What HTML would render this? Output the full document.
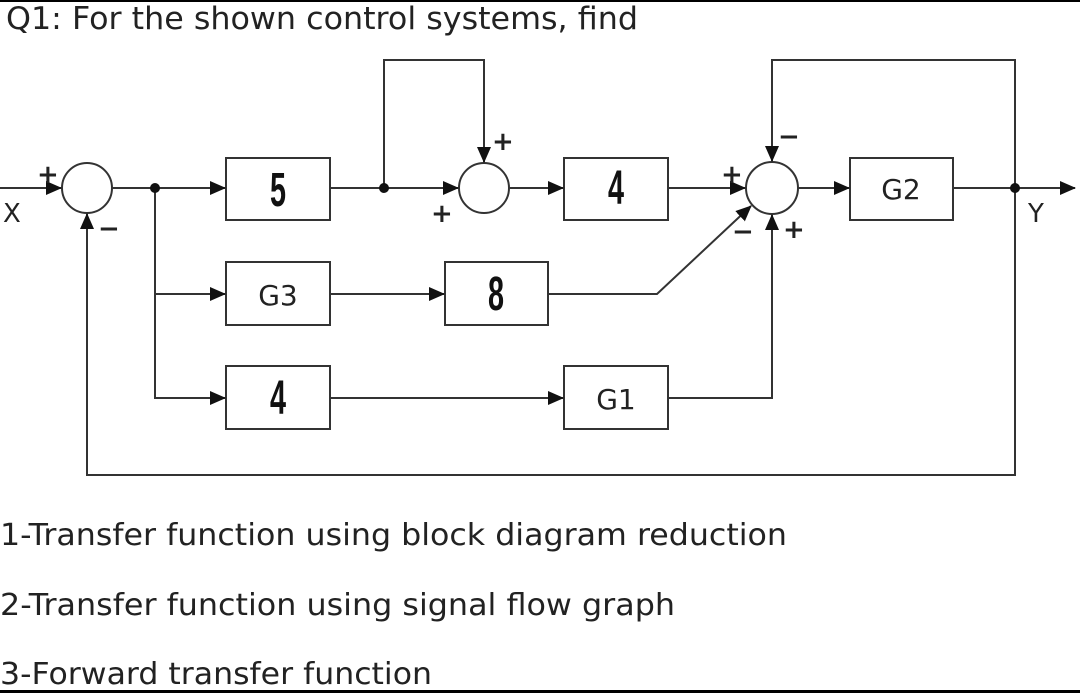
<!DOCTYPE html>
<html><head><meta charset="utf-8"><style>
html,body{margin:0;padding:0;background:#fff;width:1080px;height:693px;overflow:hidden}
svg{display:block}
text{font-family:"DejaVu Sans","Liberation Sans",sans-serif;fill:#222}
.n{font-family:"Liberation Sans Narrow","Liberation Sans",sans-serif;font-weight:bold;fill:#111}
</style></head><body>
<svg width="1080" height="693" viewBox="0 0 1080 693" xmlns="http://www.w3.org/2000/svg">
<defs><marker id="b" markerWidth="16" markerHeight="14" refX="15" refY="7" orient="auto" markerUnits="userSpaceOnUse"><path d="M0,0 L16,7 L0,14 z" fill="#111"/></marker></defs>
<rect x="0" y="0" width="1080" height="2" fill="#000"/>
<rect x="0" y="690" width="1080" height="3" fill="#000"/>
<text x="6" y="29" font-size="31" textLength="632" lengthAdjust="spacingAndGlyphs">Q1: For the shown control systems, find</text>
<g stroke="#333" stroke-width="2" fill="none">
<circle cx="87" cy="188" r="25"/><circle cx="484" cy="188" r="25"/><circle cx="772" cy="188" r="26"/>
<rect x="226" y="158" width="104" height="62"/><rect x="564" y="158" width="104" height="62"/><rect x="850" y="158" width="103" height="62"/>
<rect x="226" y="262" width="104" height="63"/><rect x="445" y="262" width="103" height="63"/>
<rect x="226" y="366" width="104" height="63"/><rect x="564" y="366" width="104" height="63"/>
<line x1="0" y1="188" x2="61" y2="188" marker-end="url(#b)"/>
<line x1="112" y1="188" x2="225" y2="188" marker-end="url(#b)"/>
<line x1="330" y1="188" x2="458" y2="188" marker-end="url(#b)"/>
<polyline points="384,188 384,60 484,60 484,162" marker-end="url(#b)"/>
<line x1="509" y1="188" x2="563" y2="188" marker-end="url(#b)"/>
<line x1="668" y1="188" x2="745" y2="188" marker-end="url(#b)"/>
<line x1="798" y1="188" x2="849" y2="188" marker-end="url(#b)"/>
<line x1="953" y1="188" x2="1075" y2="188" marker-end="url(#b)"/>
<polyline points="1015,188 1015,60 772,60 772,161" marker-end="url(#b)"/>
<polyline points="1015,188 1015,475 87,475 87,214" marker-end="url(#b)"/>
<polyline points="155,188 155,398 225,398" marker-end="url(#b)"/>
<line x1="155" y1="294" x2="225" y2="294" marker-end="url(#b)"/>
<line x1="330" y1="294" x2="444" y2="294" marker-end="url(#b)"/>
<line x1="330" y1="398" x2="563" y2="398" marker-end="url(#b)"/>
<polyline points="548,294 657,294 751,206" marker-end="url(#b)"/>
<polyline points="668,398 772,398 772,215" marker-end="url(#b)"/>
</g>
<g fill="#111"><circle cx="155" cy="188" r="5"/><circle cx="384" cy="188" r="5"/><circle cx="1015" cy="188" r="5"/></g>
<text class="n" x="278" y="206" font-size="48" text-anchor="middle" transform="translate(278 0) scale(0.6 1) translate(-278 0)">5</text>
<text class="n" x="616" y="204" font-size="48" text-anchor="middle" transform="translate(616 0) scale(0.6 1) translate(-616 0)">4</text>
<text class="n" x="496" y="310" font-size="48" text-anchor="middle" transform="translate(496 0) scale(0.6 1) translate(-496 0)">8</text>
<text class="n" x="278" y="414" font-size="48" text-anchor="middle" transform="translate(278 0) scale(0.6 1) translate(-278 0)">4</text>
<text x="901" y="199" font-size="28" text-anchor="middle">G2</text>
<text x="278" y="305" font-size="28" text-anchor="middle">G3</text>
<text x="616" y="409" font-size="28" text-anchor="middle">G1</text>
<text x="3" y="222" font-size="26">X</text>
<text x="1028" y="222" font-size="26">Y</text>
<g font-size="26" font-weight="bold" fill="#222">
<text x="37" y="183">+</text><text x="98" y="237">−</text>
<text x="492" y="150">+</text><text x="431" y="222">+</text>
<text x="721" y="183">+</text><text x="778" y="145">−</text>
<text x="732" y="240">−</text><text x="783" y="238">+</text>
</g>
<text x="0" y="545" font-size="30" textLength="787" lengthAdjust="spacingAndGlyphs">1-Transfer function using block diagram reduction</text>
<text x="0" y="615" font-size="30" textLength="675" lengthAdjust="spacingAndGlyphs">2-Transfer function using signal flow graph</text>
<text x="0" y="684" font-size="30" textLength="432" lengthAdjust="spacingAndGlyphs">3-Forward transfer function</text>
</svg>
</body></html>
